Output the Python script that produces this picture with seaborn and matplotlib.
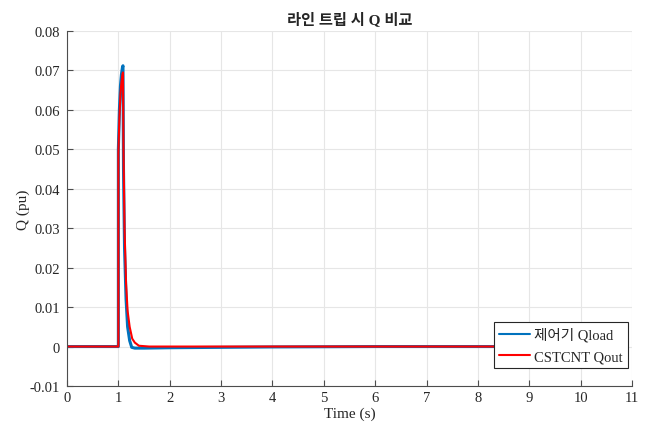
import numpy as np
import pandas as pd
import seaborn as sns
import matplotlib.pyplot as plt

# Qload of the controller
t_load = [0, 1.0, 1.0, 1.02, 1.04, 1.06, 1.08, 1.09, 1.10, 1.12, 1.15, 1.18,
          1.22, 1.26, 1.32, 1.5, 2.0, 3.0, 4.0, 6.0, 10.0]
q_load = [0, 0, 0.050, 0.060, 0.066, 0.069, 0.0708, 0.0712, 0.045, 0.025, 0.012,
          0.005, 0.0015, -0.0002, -0.0004, -0.0004, -0.0003, -0.0002, -0.0001, 0, 0]

# CSTCNT Qout
t_out = [0, 1.0, 1.0, 1.02, 1.04, 1.06, 1.08, 1.09, 1.10, 1.12, 1.15, 1.18,
         1.22, 1.27, 1.32, 1.4, 1.6, 10.0]
q_out = [0, 0, 0.049, 0.058, 0.064, 0.067, 0.069, 0.0695, 0.05, 0.03, 0.016,
         0.009, 0.005, 0.002, 0.001, 0.0002, 0, 0]

labels = ["제어기 Qload", "CSTCNT Qout"]

df = pd.concat([
    pd.DataFrame({"t": t_load, "q": q_load, "s": labels[0]}),
    pd.DataFrame({"t": t_out, "q": q_out, "s": labels[1]}),
])

sns.set_style("whitegrid")
plt.rcParams['font.family'] = ['Liberation Serif', 'Noto Sans CJK KR']

fig = plt.figure(figsize=(6.53, 4.39), dpi=100)
ax = fig.add_axes([0.1026, 0.1185, 0.8652, 0.8085])

sns.lineplot(data=df, x="t", y="q", hue="s", sort=False, estimator=None,
             palette={labels[0]: "#0072BD", labels[1]: "#FF0000"}, ax=ax)
for line, lw in zip(ax.lines, [2.2, 1.5]):
    line.set_linewidth(lw)

ax.set_xlim(0, 11)
ax.set_ylim(-0.01, 0.08)
ax.set_xticks(range(0, 12))
ax.set_yticks(np.arange(-0.01, 0.0801, 0.01))
ax.set_yticklabels(["-0.01", "0", "0.01", "0.02", "0.03", "0.04",
                    "0.05", "0.06", "0.07", "0.08"])
ax.grid(True, color="#e6e6e6", linewidth=0.8)
ax.set_facecolor("white")
for side in ["top", "right"]:
    ax.spines[side].set_visible(False)
for side in ["left", "bottom"]:
    ax.spines[side].set_color("#4d4d4d")
    ax.spines[side].set_linewidth(0.8)
ax.tick_params(direction="in", length=4, width=0.8, colors="#4d4d4d",
               labelcolor="#262626", labelsize=10.5, left=True, bottom=True)
ax.tick_params(axis="y", pad=5)

ax.set_xlabel("Time (s)", fontsize=11, color="#262626", labelpad=2)
ax.set_ylabel("Q (pu)", fontsize=11, color="#262626", labelpad=0)
ax.set_title("라인 트립 시 Q 비교", fontsize=11, fontweight="bold",
             color="#262626", pad=6)

leg = ax.legend(loc="lower right", bbox_to_anchor=(0.993, 0.05), fontsize=10.5,
                frameon=True, fancybox=False, edgecolor="#262626",
                handlelength=2.1, borderpad=0.35, labelspacing=0.55,
                handletextpad=0.3, borderaxespad=0.0)
leg.get_frame().set_linewidth(0.8)
leg.get_frame().set_alpha(1)

fig.savefig("out.png", dpi=100)
